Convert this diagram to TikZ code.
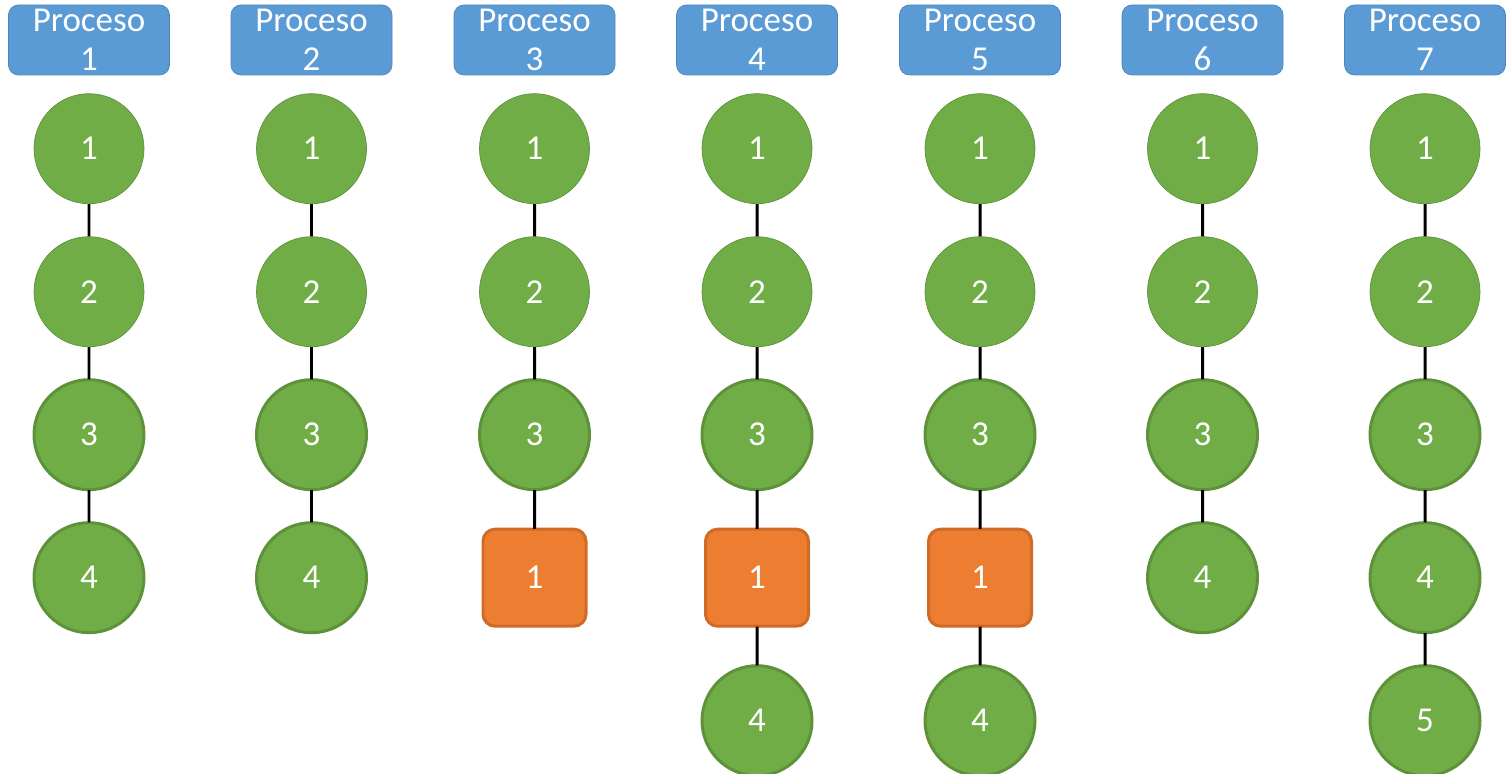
\documentclass[tikz,border=0pt]{standalone}
\usepackage{fontspec}
\setmainfont{Carlito}
\usetikzlibrary{positioning}
\definecolor{procfill}{HTML}{5B9BD5}
\definecolor{procline}{HTML}{4A85BC}
\definecolor{pasofill}{HTML}{70AD47}
\definecolor{pasoline}{HTML}{5D923A}
\definecolor{esperafill}{HTML}{ED7D31}
\definecolor{esperaline}{HTML}{CF6A27}
\tikzset{
  texto/.style={text=white, font=\fontsize{19.9}{22.2}\selectfont},
  proc/.style={texto, draw=procline, fill=procfill, rounded corners=0.2cm,
    minimum width=3.22cm, minimum height=1.4cm, inner sep=0pt, align=center},
  paso/.style={texto, circle, draw=pasoline, fill=pasofill, minimum size=2.2cm, inner sep=0pt},
  espera/.style={texto, rectangle, draw=esperaline, fill=esperafill, rounded corners=0.24cm,
    minimum width=2.06cm, minimum height=1.94cm, inner sep=0pt}
}
\begin{document}
\begin{tikzpicture}[level distance=2.86cm,
  edge from parent/.style={draw, line width=1.7pt}]
  \useasboundingbox (0,0) rectangle (30.22,-15.48);
  % cabeceras
  \node[proc] (p1) at (1.78,-0.8) {Proceso\\1};
  \node[proc] (p2) at (6.23,-0.8) {Proceso\\2};
  \node[proc] (p3) at (10.69,-0.8) {Proceso\\3};
  \node[proc] (p4) at (15.14,-0.8) {Proceso\\4};
  \node[proc] (p5) at (19.60,-0.8) {Proceso\\5};
  \node[proc] (p6) at (24.05,-0.8) {Proceso\\6};
  \node[proc] (p7) at (28.50,-0.8) {Proceso\\7};
  % cadenas
  \node[paso, below=0.36cm of p1] (a1) {1}
    child {node[paso] {2}
      child {node[paso] {3}
        child {node[paso] {4}}
      }
    };
  \node[paso, below=0.36cm of p2] (a2) {1}
    child {node[paso] {2}
      child {node[paso] {3}
        child {node[paso] {4}}
      }
    };
  \node[paso, below=0.36cm of p3] (a3) {1}
    child {node[paso] {2}
      child {node[paso] {3}
        child {node[espera] {1}}
      }
    };
  \node[paso, below=0.36cm of p4] (a4) {1}
    child {node[paso] {2}
      child {node[paso] {3}
        child {node[espera] {1}
          child {node[paso] {4}}
        }
      }
    };
  \node[paso, below=0.36cm of p5] (a5) {1}
    child {node[paso] {2}
      child {node[paso] {3}
        child {node[espera] {1}
          child {node[paso] {4}}
        }
      }
    };
  \node[paso, below=0.36cm of p6] (a6) {1}
    child {node[paso] {2}
      child {node[paso] {3}
        child {node[paso] {4}}
      }
    };
  \node[paso, below=0.36cm of p7] (a7) {1}
    child {node[paso] {2}
      child {node[paso] {3}
        child {node[paso] {4}
          child {node[paso] {5}}
        }
      }
    };
\end{tikzpicture}
\end{document}
